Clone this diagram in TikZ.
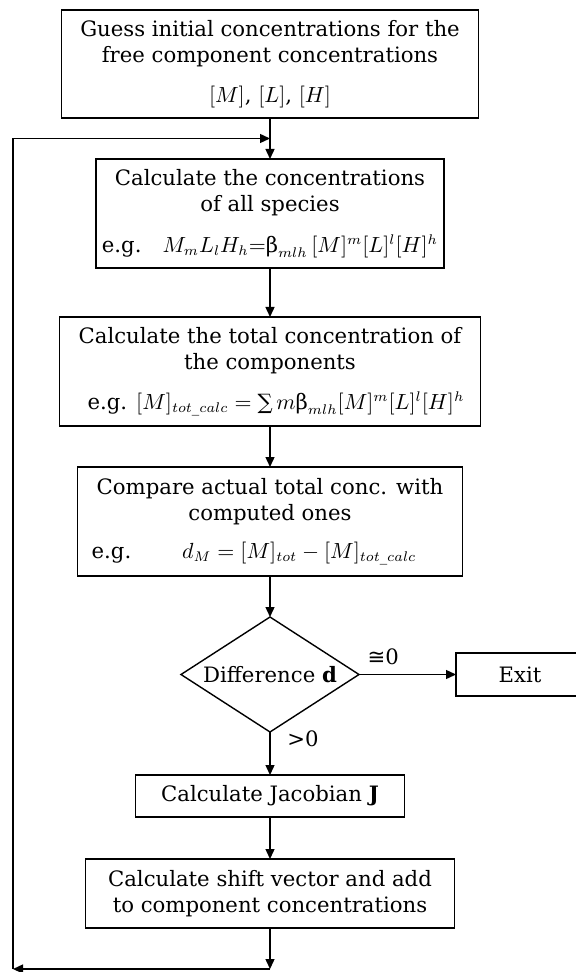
\documentclass[tikz,border=0pt]{standalone}
\usepackage{amsmath}
\usepackage{fontspec}
\setmainfont{DejaVu Serif}
\newfontfamily\symfont{DejaVu Sans}
\usetikzlibrary{arrows.meta,positioning,shapes.geometric}

\begin{document}
\begin{tikzpicture}[
  x=0.5pt, y=-0.5pt,
  >={Triangle[length=5pt,width=4.5pt]},
  font=\fontsize{10.6}{13}\selectfont,
  stepbox/.style={rectangle,draw,line width=0.7pt,outer sep=0pt,align=center,inner sep=0pt,minimum height=54.5pt},
  test/.style={diamond,draw,line width=0.7pt,outer sep=0pt,aspect=1.55,inner sep=0pt,minimum width=89pt,minimum height=57.5pt},
  flow/.style={->,line width=0.7pt},
]
  \useasboundingbox (0,0) rectangle (576,972);
  \clip (0,0) rectangle (576,972);
  \node[stepbox,minimum width=208.5pt,minimum height=54pt] (guess) at (270,64)
    {Guess initial concentrations for the\\ free component concentrations\\[7pt] $[M]$, $[L]$, $[H]$};
  \node[stepbox,minimum width=174pt,below=20.5pt of guess] (species)
    {Calculate the concentrations\\ of all species\\[7.5pt] e.g.\quad $M_mL_lH_h{=}\mbox{β}_{mlh}\,[M]^m[L]^l[H]^h$};
  \node[stepbox,minimum width=210.5pt,below=24.5pt of species] (total)
    {Calculate the total concentration of\\ the components\\[7pt] \hspace{6pt}e.g. $[M]_{tot\_calc}=\mbox{∑}\,m\mbox{β}_{mlh}[M]^m[L]^l[H]^h$};
  \node[stepbox,minimum width=192.5pt,below=20.5pt of total] (compare)
    {Compare actual total conc. with\\ computed ones\\[6pt] e.g.\hspace{2.4em}$d_M=[M]_{tot}-[M]_{tot\_calc}$\hspace{16pt}\mbox{}};
  \node[test,below=20.5pt of compare] (diff) {Difference \textbf{d}};
  \node[stepbox,minimum width=64pt,minimum height=21.5pt,right=48.5pt of diff] (exit) {Exit};
  \node[stepbox,minimum width=134.5pt,minimum height=21pt,below=21.5pt of diff] (jacobian)
    {Calculate Jacobian \textbf{J}};
  \node[stepbox,minimum width=184.5pt,minimum height=34.5pt,below=21pt of jacobian] (shift)
    {Calculate shift vector and add\\ to component concentrations};

  \coordinate[below=10.25pt of guess] (join);
  \coordinate[below=20.5pt of shift] (bot);
  \coordinate (rail) at (13,0);

  \draw[flow] (diff) -- node[pos=0.25,above=1pt]{{\symfont ≅}0} (exit);
  \draw[flow] (guess) -- (species);
  \draw[flow] (species) -- (total);
  \draw[flow] (total) -- (compare);
  \draw[flow] (compare) -- (diff);
  \draw[flow] (diff) -- node[pos=0.15,right=5pt]{>0} (jacobian);
  \draw[flow] (jacobian) -- (shift);
  \draw[flow] (shift) -- (bot);
  \draw[flow] (bot) -- (bot -| rail);
  \draw[flow] (bot -| rail) -- (join -| rail) -- (join);
\end{tikzpicture}
\end{document}
